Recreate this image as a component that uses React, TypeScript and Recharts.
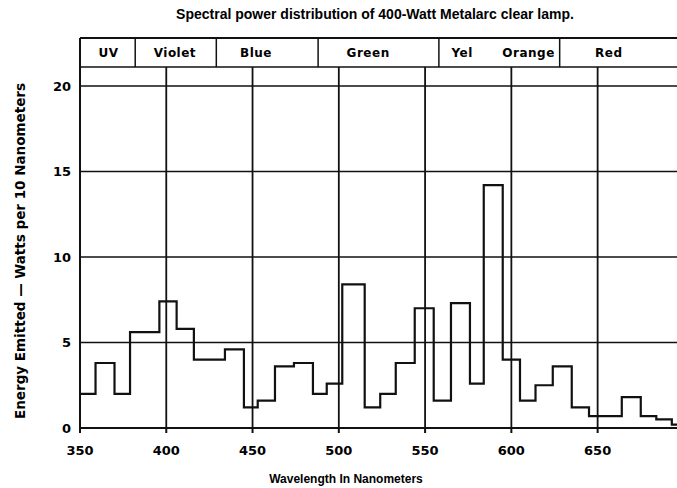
import { ComposedChart, Line, XAxis, YAxis, ReferenceLine, ReferenceArea } from "recharts";

document.body.style.margin = "0";

// wavelength (nm) where each step begins, and energy for that step (W per 10 nm)
const stepStarts = [350, 359, 370, 379, 396, 406, 416, 434, 445, 453, 463, 474, 485, 493, 502, 515, 524, 533, 544, 555, 565, 576, 584, 595, 605, 614, 624, 635, 645, 664, 675, 684, 693, 696];
const energy = [2.0, 3.8, 2.0, 5.6, 7.4, 5.8, 4.0, 4.6, 1.2, 1.6, 3.6, 3.8, 2.0, 2.6, 8.4, 1.2, 2.0, 3.8, 7.0, 1.6, 7.3, 2.6, 14.2, 4.0, 1.6, 2.5, 3.6, 1.2, 0.7, 1.8, 0.7, 0.5, 0.2, 0.2];

const xTicks = [350, 400, 450, 500, 550, 600, 650];
const yTicks = [0, 5, 10, 15, 20];
const gridY = [5, 10, 15, 20];
const gridX = [400, 450, 500, 550, 600, 650];

// colour band strip along the top
const bandNames = ["UV", "Violet", "Blue", "Green", "Yel", "Orange", "Red"];
const bandCenters = [366.5, 405, 452, 517, 571.5, 610, 656.5];
const bandDividers = [382, 429, 488, 558, 628];
const BAND_LO = 21.1;
const BAND_HI = 22.8;

const data = stepStarts.map((nm, i) => ({ nm, v: energy[i] }));

const tickFont = { fill: "#000", fontSize: 13, fontWeight: 700, fontFamily: "DejaVu Sans" };
const ink = "#111";

export default function App() {
  return (
    <div style={{ position: "relative", width: 677, height: 488, background: "#fff" }}>
      <div style={{ position: "absolute", left: 375, top: 7, transform: "translateX(-50%)", whiteSpace: "nowrap",
        fontFamily: "Liberation Sans", fontWeight: 700, fontSize: 14, lineHeight: 1 }}>
        Spectral power distribution of 400-Watt Metalarc clear lamp.
      </div>
      <div style={{ position: "absolute", left: 21, top: 251, transform: "translate(-50%,-50%) rotate(-90deg)", whiteSpace: "nowrap",
        fontFamily: "DejaVu Sans", fontWeight: 700, fontSize: 13.5, lineHeight: 1 }}>
        Energy Emitted — Watts per 10 Nanometers
      </div>
      <div style={{ position: "absolute", left: 346, top: 473, transform: "translateX(-50%)", whiteSpace: "nowrap",
        fontFamily: "Liberation Sans", fontWeight: 700, fontSize: 12, lineHeight: 1 }}>
        Wavelength In Nanometers
      </div>
      <ComposedChart width={677} height={488} data={data} margin={{ top: 38, right: 0, bottom: 0, left: 0 }}>
        <XAxis type="number" dataKey="nm" domain={[350, 696]} ticks={xTicks} allowDataOverflow height={60}
          axisLine={{ stroke: ink, strokeWidth: 2 }} tickLine={{ stroke: ink, strokeWidth: 2 }} tickSize={5} tickMargin={13} tick={tickFont} />
        <YAxis type="number" domain={[0, BAND_HI]} ticks={yTicks} allowDataOverflow width={80}
          axisLine={{ stroke: ink, strokeWidth: 2 }} tickLine={false} tickSize={0} tickMargin={9} tick={tickFont} />
        {gridY.map(y => (
          <ReferenceLine key={"gy" + y} y={y} stroke={ink} strokeWidth={1.5} />
        ))}
        <ReferenceLine y={BAND_LO} stroke={ink} strokeWidth={1.5} />
        <ReferenceLine y={BAND_HI} stroke={ink} strokeWidth={2} />
        {gridX.map(x => (
          <ReferenceLine key={"gx" + x} segment={[{ x, y: 0 }, { x, y: BAND_LO }]} stroke={ink} strokeWidth={1.8} />
        ))}
        {bandDividers.map(x => (
          <ReferenceLine key={"bd" + x} segment={[{ x, y: BAND_LO }, { x, y: BAND_HI }]} stroke={ink} strokeWidth={1.5} />
        ))}
        {bandNames.map((name, i) => (
          <ReferenceArea key={name} x1={bandCenters[i] - 1} x2={bandCenters[i] + 1} y1={BAND_LO} y2={BAND_HI}
            fill="none" stroke="none"
            label={{ value: name, position: "center", fill: "#000", fontSize: 12, fontWeight: 700, fontFamily: "DejaVu Sans", letterSpacing: 0.5 }} />
        ))}
        <Line type="stepAfter" dataKey="v" stroke={ink} strokeWidth={2.2} dot={false} isAnimationActive={false} />
      </ComposedChart>
    </div>
  );
}
